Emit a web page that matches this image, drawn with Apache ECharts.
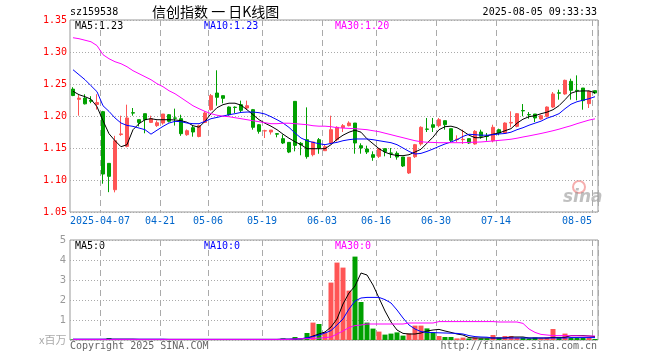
<!DOCTYPE html>
<html><head><meta charset="utf-8">
<script src="https://cdn.jsdelivr.net/npm/echarts@6/dist/echarts.min.js"></script>
<style>html,body{margin:0;padding:0;background:#fff}#c{width:660px;height:360px}</style>
</head><body><div id="c"></div>
<script>
const dates = ['2025-03-28','2025-03-31','2025-04-01','2025-04-02','2025-04-03','2025-04-07','2025-04-08','2025-04-09','2025-04-10','2025-04-11','2025-04-14','2025-04-15','2025-04-16','2025-04-17','2025-04-18','2025-04-21','2025-04-22','2025-04-23','2025-04-24','2025-04-25','2025-04-28','2025-04-29','2025-04-30','2025-05-06','2025-05-07','2025-05-08','2025-05-09','2025-05-12','2025-05-13','2025-05-14','2025-05-15','2025-05-16','2025-05-19','2025-05-20','2025-05-21','2025-05-22','2025-05-23','2025-05-26','2025-05-27','2025-05-28','2025-05-29','2025-05-30','2025-06-03','2025-06-04','2025-06-05','2025-06-06','2025-06-09','2025-06-10','2025-06-11','2025-06-12','2025-06-13','2025-06-16','2025-06-17','2025-06-18','2025-06-19','2025-06-20','2025-06-23','2025-06-24','2025-06-25','2025-06-26','2025-06-27','2025-06-30','2025-07-01','2025-07-02','2025-07-03','2025-07-04','2025-07-07','2025-07-08','2025-07-09','2025-07-10','2025-07-11','2025-07-14','2025-07-15','2025-07-16','2025-07-17','2025-07-18','2025-07-21','2025-07-22','2025-07-23','2025-07-24','2025-07-25','2025-07-28','2025-07-29','2025-07-30','2025-07-31','2025-08-01','2025-08-04','2025-08-05'];

const open  = [1.242,1.226,1.228,1.2245,1.218,1.2068,1.126,1.0848,1.171,1.1526,1.2052,1.1943,1.2036,1.190,1.185,1.189,1.202,1.197,1.1958,1.1708,1.1818,1.168,1.190,1.2099,1.2359,1.2318,1.214,1.2138,1.2177,1.2125,1.2099,1.1864,1.1766,1.175,1.1724,1.1646,1.1588,1.2229,1.1573,1.163,1.1396,1.163,1.1458,1.1578,1.163,1.1818,1.1849,1.189,1.1536,1.1484,1.1396,1.137,1.149,1.1422,1.1417,1.1359,1.111,1.1364,1.1563,1.1797,1.1864,1.1849,1.1927,1.1802,1.163,1.163,1.1646,1.1563,1.175,1.1685,1.1614,1.1786,1.1734,1.189,1.1838,1.2085,1.2023,1.2031,1.1953,1.1995,1.214,1.2362,1.2344,1.2542,1.2401,1.2437,1.2193,1.2396];
const close = [1.232,1.228,1.219,1.223,1.221,1.1093,1.1057,1.1614,1.172,1.1969,1.2045,1.190,1.1943,1.1958,1.1895,1.2031,1.1917,1.1965,1.1724,1.177,1.175,1.1849,1.2047,1.2318,1.2292,1.2276,1.202,1.2133,1.2088,1.2161,1.1823,1.176,1.177,1.178,1.1716,1.1578,1.1437,1.1541,1.155,1.1365,1.1594,1.150,1.152,1.1786,1.1823,1.1849,1.189,1.1578,1.150,1.1437,1.1354,1.149,1.1443,1.1417,1.1359,1.1219,1.1354,1.1552,1.1823,1.1792,1.1823,1.1943,1.1864,1.162,1.164,1.1635,1.1578,1.176,1.1682,1.168,1.1823,1.1734,1.189,1.190,1.2036,1.208,1.2018,1.1969,1.2005,1.214,1.2344,1.2357,1.2557,1.2401,1.2395,1.224,1.2385,1.236];
const low   = [1.231,1.2005,1.218,1.220,1.210,1.0942,1.081,1.0807,1.169,1.151,1.2005,1.1838,1.173,1.189,1.183,1.1865,1.190,1.185,1.169,1.169,1.1677,1.1667,1.189,1.2083,1.2161,1.2198,1.2005,1.2047,1.2047,1.2094,1.1786,1.1724,1.1656,1.171,1.1667,1.1562,1.142,1.1448,1.1386,1.1333,1.137,1.141,1.1458,1.156,1.1604,1.175,1.1838,1.1411,1.1411,1.1406,1.130,1.1344,1.137,1.1344,1.1318,1.1203,1.1094,1.1344,1.1536,1.175,1.175,1.1823,1.1786,1.1594,1.1594,1.1563,1.1563,1.1552,1.1646,1.1614,1.1588,1.1698,1.1719,1.1823,1.1823,1.1995,1.1958,1.1906,1.1943,1.1979,1.2125,1.2255,1.2333,1.2255,1.2245,1.2099,1.2125,1.2344];
const high  = [1.245,1.233,1.234,1.231,1.234,1.208,1.126,1.169,1.2005,1.2177,1.2125,1.1943,1.2036,1.2005,1.193,1.2031,1.203,1.2115,1.202,1.179,1.185,1.1864,1.2073,1.2344,1.2714,1.2318,1.215,1.215,1.224,1.224,1.211,1.1875,1.1786,1.178,1.1734,1.171,1.1588,1.2229,1.1594,1.2135,1.1594,1.1656,1.1552,1.2005,1.1839,1.1875,1.1917,1.189,1.1573,1.1536,1.1448,1.150,1.149,1.150,1.1448,1.1359,1.1354,1.1563,1.1839,1.1969,1.1969,1.1969,1.1927,1.1802,1.1698,1.1786,1.1646,1.178,1.1786,1.1734,1.1864,1.1802,1.190,1.2073,1.2047,1.2187,1.2062,1.2031,1.2021,1.215,1.2375,1.2411,1.2568,1.2583,1.2635,1.2437,1.2396,1.2396];

const ma5  = [1.2386,1.2333,1.2302,1.2262,1.2145,1.1927,1.1723,1.1614,1.152,1.1552,1.1786,1.188,1.1942,1.1958,1.1942,1.1942,1.1942,1.1938,1.1927,1.1903,1.1848,1.1825,1.1917,1.2036,1.213,1.2177,1.220,1.220,1.2169,1.2098,1.202,1.1942,1.1887,1.1841,1.1786,1.1716,1.1653,1.1598,1.1552,1.1489,1.1489,1.1489,1.1489,1.1552,1.1636,1.170,1.1747,1.1778,1.1747,1.1644,1.1567,1.1489,1.1434,1.140,1.1383,1.138,1.1395,1.1437,1.1481,1.1575,1.1669,1.1786,1.1833,1.1841,1.1817,1.1763,1.170,1.1661,1.1661,1.1688,1.1716,1.1734,1.177,1.1802,1.1888,1.195,1.1989,1.2005,1.2036,1.206,1.2098,1.2161,1.2255,1.2356,1.2387,1.2392,1.2392,1.2364];
const ma10 = [1.2723,1.2645,1.2567,1.2473,1.238,1.216,1.2072,1.1969,1.189,1.1853,1.1838,1.1812,1.1786,1.1716,1.1778,1.1838,1.189,1.1916,1.1911,1.189,1.188,1.188,1.1916,1.1958,1.1978,1.200,1.202,1.2036,1.2056,1.2062,1.2062,1.2052,1.2031,1.1989,1.1942,1.189,1.1822,1.1734,1.1656,1.1614,1.1588,1.1567,1.1552,1.1572,1.1588,1.1614,1.163,1.1641,1.1641,1.1641,1.163,1.1614,1.1598,1.1583,1.1552,1.150,1.1447,1.1406,1.1416,1.1447,1.1484,1.1525,1.1563,1.1594,1.163,1.1681,1.1715,1.1708,1.170,1.170,1.1708,1.1719,1.1727,1.1747,1.1786,1.1817,1.1856,1.1888,1.1919,1.1966,1.1997,1.2036,1.2114,1.2184,1.2223,1.2247,1.227,1.2302];
const ma30 = [1.3223,1.3208,1.3184,1.316,1.310,1.2958,1.2895,1.2848,1.2817,1.277,1.2708,1.2661,1.2614,1.2567,1.2505,1.2458,1.2395,1.2348,1.2286,1.2223,1.216,1.2114,1.2072,1.2036,1.2012,1.1997,1.1989,1.1973,1.1958,1.1942,1.1926,1.1911,1.1895,1.188,1.188,1.1887,1.1887,1.188,1.1872,1.1864,1.1848,1.1841,1.1841,1.1833,1.1817,1.1812,1.1806,1.1802,1.1794,1.1786,1.177,1.1755,1.1731,1.1708,1.1684,1.1661,1.1637,1.1614,1.1598,1.159,1.1587,1.1583,1.1583,1.1583,1.1583,1.1583,1.1588,1.1591,1.1594,1.1602,1.161,1.1619,1.1627,1.1637,1.1653,1.1672,1.1689,1.1708,1.1727,1.1748,1.177,1.1794,1.1822,1.1848,1.188,1.1908,1.1936,1.1956];

const vol    = [0.03,0.02,0.02,0.02,0.03,0.05,0.10,0.04,0.02,0.03,0.02,0.02,0.02,0.02,0.02,0.02,0.02,0.02,0.02,0.02,0.02,0.02,0.02,0.03,0.04,0.02,0.02,0.02,0.02,0.02,0.02,0.02,0.02,0.02,0.02,0.08,0.03,0.15,0.03,0.35,0.87,0.80,0.40,2.87,3.87,3.62,2.47,4.17,1.90,0.87,0.57,0.42,0.27,0.32,0.38,0.22,0.33,0.72,0.72,0.58,0.38,0.20,0.15,0.15,0.08,0.12,0.08,0.12,0.08,0.08,0.25,0.12,0.20,0.20,0.12,0.12,0.08,0.12,0.08,0.12,0.55,0.12,0.32,0.12,0.12,0.12,0.12,0.05];
const volMa5 = [0.03,0.03,0.03,0.03,0.03,0.03,0.04,0.04,0.04,0.04,0.04,0.03,0.03,0.03,0.03,0.03,0.03,0.03,0.03,0.03,0.03,0.03,0.03,0.03,0.03,0.03,0.03,0.03,0.03,0.03,0.03,0.03,0.03,0.03,0.03,0.04,0.04,0.05,0.06,0.08,0.20,0.30,0.40,0.65,1.05,1.80,2.35,2.70,3.35,3.25,2.75,2.10,1.45,0.90,0.50,0.33,0.30,0.30,0.35,0.45,0.50,0.53,0.45,0.38,0.30,0.25,0.12,0.10,0.10,0.10,0.10,0.10,0.10,0.15,0.15,0.15,0.10,0.10,0.10,0.10,0.13,0.13,0.13,0.22,0.22,0.22,0.20,0.17];
const volMa10= [0.04,0.04,0.04,0.04,0.04,0.04,0.04,0.04,0.04,0.04,0.04,0.04,0.04,0.04,0.04,0.04,0.03,0.03,0.03,0.03,0.03,0.03,0.03,0.03,0.03,0.03,0.03,0.03,0.03,0.03,0.03,0.03,0.03,0.03,0.03,0.04,0.04,0.05,0.06,0.12,0.17,0.25,0.35,0.47,0.75,1.05,1.55,1.95,2.10,2.13,2.13,2.13,2.02,1.85,1.50,1.10,0.75,0.55,0.42,0.38,0.37,0.36,0.35,0.34,0.33,0.30,0.22,0.17,0.15,0.14,0.10,0.10,0.10,0.10,0.10,0.10,0.10,0.10,0.10,0.10,0.10,0.10,0.10,0.12,0.12,0.12,0.12,0.12];
const volMa30= [0.03,0.03,0.03,0.03,0.03,0.03,0.03,0.03,0.03,0.03,0.03,0.03,0.03,0.03,0.03,0.03,0.03,0.03,0.03,0.03,0.03,0.03,0.03,0.03,0.03,0.03,0.03,0.03,0.03,0.03,0.03,0.03,0.03,0.03,0.03,0.03,0.03,0.05,0.06,0.07,0.08,0.09,0.12,0.15,0.30,0.45,0.62,0.72,0.75,0.80,0.80,0.80,0.80,0.80,0.80,0.80,0.85,0.85,0.85,0.85,0.85,0.92,0.92,0.92,0.92,0.92,0.92,0.92,0.92,0.92,0.92,0.90,0.90,0.90,0.90,0.83,0.55,0.38,0.28,0.25,0.22,0.22,0.22,0.21,0.21,0.20,0.20,0.20];

const tickDates  = ['2025-04-07','2025-04-21','2025-05-06','2025-05-19','2025-06-03','2025-06-16','2025-06-30','2025-07-14','2025-08-05'];
const tickLabels = ['2025-04-07','04-21','05-06','05-19','06-03','06-16','06-30','07-14','08-05'];
const priceTicks = [1.05,1.10,1.15,1.20,1.25,1.30,1.35];
const volTicks   = [0,1,2,3,4,5];

const RED = '#ff5555', GREEN = '#00a000';
const MONO = '"DejaVu Sans Mono", monospace';
const tickSet = new Set(tickDates);
const labelOf = {}; tickDates.forEach((d,i)=>labelOf[d]=tickLabels[i]);

const chart = echarts.init(document.getElementById('c'), null, {renderer:'canvas'});
const gridLine = {show:true, lineStyle:{color:'#aaa', type:[1,2], width:1}};
const vSplit = {show:true, interval:(i,v)=>tickSet.has(v), lineStyle:{color:'#aaa', type:[6,4], width:1}};

chart.setOption({
  animation:false,
  grid:[
    {left:70, top:20, width:528, height:192, show:true, borderColor:'#999', borderWidth:1, backgroundColor:'transparent'},
    {left:70, top:240, width:528, height:100, show:true, borderColor:'#999', borderWidth:1, backgroundColor:'transparent'}
  ],
  xAxis:[
    {type:'category', gridIndex:0, data:dates, boundaryGap:true,
     axisLine:{show:false}, axisTick:{show:false}, splitLine:vSplit,
     axisLabel:{show:true, interval:(i,v)=>tickSet.has(v), margin:4, color:'#0066cc', fontFamily:MONO, fontSize:10,
       formatter:(v)=> v==='2025-08-05' ? '{e|'+labelOf[v]+'}' : '{n|'+labelOf[v]+'}',
       rich:{n:{padding:[0,6,0,0], color:'#0066cc', fontFamily:MONO, fontSize:10}, e:{padding:[0,36,0,0], color:'#0066cc', fontFamily:MONO, fontSize:10}}}},
    {type:'category', gridIndex:1, data:dates, boundaryGap:true,
     axisLine:{show:false}, axisTick:{show:false}, splitLine:vSplit, axisLabel:{show:false}}
  ],
  yAxis:[
    {type:'value', gridIndex:0, min:priceTicks[0], max:priceTicks[priceTicks.length-1], interval:0.05,
     axisLine:{show:false}, axisTick:{show:false}, splitLine:gridLine,
     axisLabel:{color:'#ff0000', fontFamily:MONO, fontSize:10, margin:3, formatter:v=>v.toFixed(2)}},
    {type:'value', gridIndex:1, min:volTicks[0], max:volTicks[volTicks.length-1], interval:1,
     axisLine:{show:false}, axisTick:{show:false}, splitLine:gridLine,
     axisLabel:{color:'#999', fontFamily:'"DejaVu Sans", sans-serif', fontSize:10, margin:4, formatter:v=> v===0 ? '' : String(v)}}
  ],
  series:[
    {type:'candlestick', xAxisIndex:0, yAxisIndex:0, barWidth:4,
     data:dates.map((d,i)=>[open[i],close[i],low[i],high[i]]),
     itemStyle:{color:RED, color0:GREEN, borderColor:RED, borderColor0:GREEN, borderWidth:1}},
    {type:'line', xAxisIndex:0, yAxisIndex:0, data:ma5,  symbol:'none', lineStyle:{color:'#000', width:1}, z:3},
    {type:'line', xAxisIndex:0, yAxisIndex:0, data:ma10, symbol:'none', lineStyle:{color:'#0000ff', width:1}, z:3},
    {type:'line', xAxisIndex:0, yAxisIndex:0, data:ma30, symbol:'none', lineStyle:{color:'#ff00ff', width:1}, z:3},
    {type:'bar', xAxisIndex:1, yAxisIndex:1, barWidth:5,
     data:vol.map((v,i)=>({value:v, itemStyle:{color: close[i]>=open[i] ? RED : GREEN}}))},
    {type:'line', xAxisIndex:1, yAxisIndex:1, data:volMa5,  symbol:'none', lineStyle:{color:'#000', width:1}, z:3},
    {type:'line', xAxisIndex:1, yAxisIndex:1, data:volMa10, symbol:'none', lineStyle:{color:'#0000ff', width:1}, z:3},
    {type:'line', xAxisIndex:1, yAxisIndex:1, data:volMa30, symbol:'none', lineStyle:{color:'#ff00ff', width:1}, z:3}
  ],
  graphic:[
    {type:'text', left:70, top:7, style:{text:'sz159538', font:'10px '+MONO, fill:'#000'}},
    {type:'text', left:152, top:5, style:{text:'信创指数 一 日K线图', font:'14px "Noto Sans CJK SC"', fill:'#000'}},
    {type:'text', right:63, top:7, style:{text:'2025-08-05 09:33:33', font:'10px '+MONO, fill:'#000'}},
    {type:'text', left:75, top:21, style:{text:'MA5:1.23', font:'10px '+MONO, fill:'#000'}},
    {type:'text', left:204, top:21, style:{text:'MA10:1.23', font:'10px '+MONO, fill:'#0000ff'}},
    {type:'text', left:335, top:21, style:{text:'MA30:1.20', font:'10px '+MONO, fill:'#ff00ff'}},
    {type:'text', left:75, top:241, style:{text:'MA5:0', font:'10px '+MONO, fill:'#000'}},
    {type:'text', left:204, top:241, style:{text:'MA10:0', font:'10px '+MONO, fill:'#0000ff'}},
    {type:'text', left:335, top:241, style:{text:'MA30:0', font:'10px '+MONO, fill:'#ff00ff'}},
    {type:'text', left:39, top:334, style:{text:'x百万', font:'11px "Noto Sans CJK SC"', fill:'#aaa'}},
    {type:'text', left:70, top:341, style:{text:'Copyright 2025 SINA.COM', font:'10px '+MONO, fill:'#666'}},
    {type:'text', right:63, top:341, style:{text:'http://finance.sina.com.cn', font:'10px '+MONO, fill:'#666'}},
    {type:'circle', shape:{cx:579, cy:187, r:6}, style:{fill:'none', stroke:'rgba(240,120,120,0.6)', lineWidth:2}},
    {type:'text', left:563, top:189, style:{text:'sina', font:'italic bold 17px "DejaVu Sans"', fill:'rgba(140,140,140,0.55)'}}
  ]
});
</script></body></html>
